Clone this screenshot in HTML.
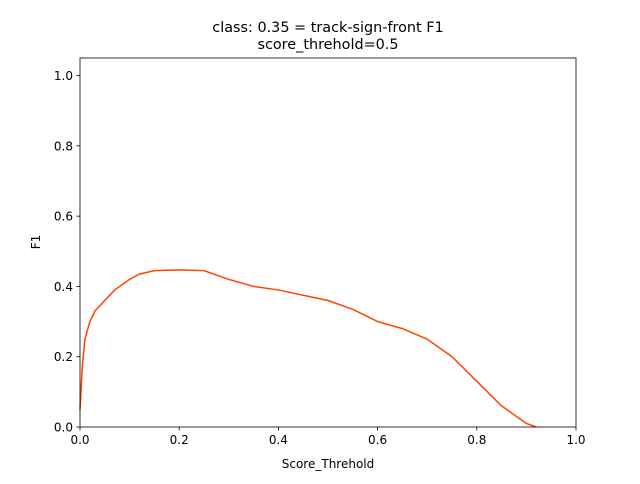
<!DOCTYPE html>
<html><head><meta charset="utf-8"><style>
body{margin:0;background:#fff;font-family:"DejaVu Sans","Liberation Sans",sans-serif;}
svg text{font-family:"DejaVu Sans","Liberation Sans",sans-serif;fill:#000;}
</style></head><body>
<svg id="chart" width="640" height="480" xmlns="http://www.w3.org/2000/svg">
<rect width="640" height="480" fill="#fff"/>
<text x="328" y="32" font-size="14.4" text-anchor="middle">class: 0.35 = track-sign-front F1</text>
<text x="328" y="49" font-size="14.4" text-anchor="middle">score_threhold=0.5</text>
<g id="axes"></g>
<text x="328" y="468" font-size="12" text-anchor="middle">Score_Threhold</text>
<text transform="translate(40,242) rotate(-90)" font-size="12" text-anchor="middle">F1</text>
</svg>
<script>
const xTicks=[0,0.2,0.4,0.6,0.8,1.0];
const xTickLabels=["0.0","0.2","0.4","0.6","0.8","1.0"];
const yTicks=[0,0.2,0.4,0.6,0.8,1.0];
const yTickLabels=["0.0","0.2","0.4","0.6","0.8","1.0"];
const thresholds=[0,0.005,0.01,0.02,0.03,0.05,0.07,0.1,0.12,0.15,0.2,0.25,0.3,0.35,0.4,0.45,0.5,0.55,0.6,0.65,0.7,0.75,0.8,0.85,0.9,0.92];
const f1Values=[0.05,0.18,0.25,0.30,0.33,0.36,0.39,0.42,0.435,0.445,0.447,0.445,0.42,0.40,0.39,0.375,0.36,0.335,0.30,0.28,0.25,0.20,0.13,0.06,0.01,0.0];
const L=80,R=576,T=58,B=427;
const xs=v=>L+(R-L)*v;
const ys=v=>B-v*(B-T)/1.05;
const NS="http://www.w3.org/2000/svg";
const g=document.getElementById('axes');
function mk(t,a){const e=document.createElementNS(NS,t);for(const k in a)e.setAttribute(k,a[k]);g.appendChild(e);return e;}
xTicks.forEach((v,i)=>{
 const l=mk('line',{x1:xs(v),x2:xs(v),y1:B,y2:B+3.5,stroke:'#000','stroke-width':0.8});
 
 
 const t=mk('text',{x:xs(v),y:B+17,'font-size':12,'text-anchor':'middle'});t.textContent=xTickLabels[i];
 
 
});
yTicks.forEach((v,i)=>{
 const l=mk('line',{x1:L-3.5,x2:L,y1:ys(v),y2:ys(v),stroke:'#000','stroke-width':0.8});
 
 
 const t=mk('text',{x:L-7,y:ys(v)+4.5,'font-size':12,'text-anchor':'end'});t.textContent=yTickLabels[i];
 
 
});
const p=mk('polyline',{points:thresholds.map((x,i)=>xs(x)+','+ys(f1Values[i])).join(' '),fill:'none',stroke:'#ff4500','stroke-width':1.5});


const fr=mk('rect',{x:L,y:T,width:R-L,height:B-T,fill:'none',stroke:'#000','stroke-width':0.8});


</script>
</body></html>
